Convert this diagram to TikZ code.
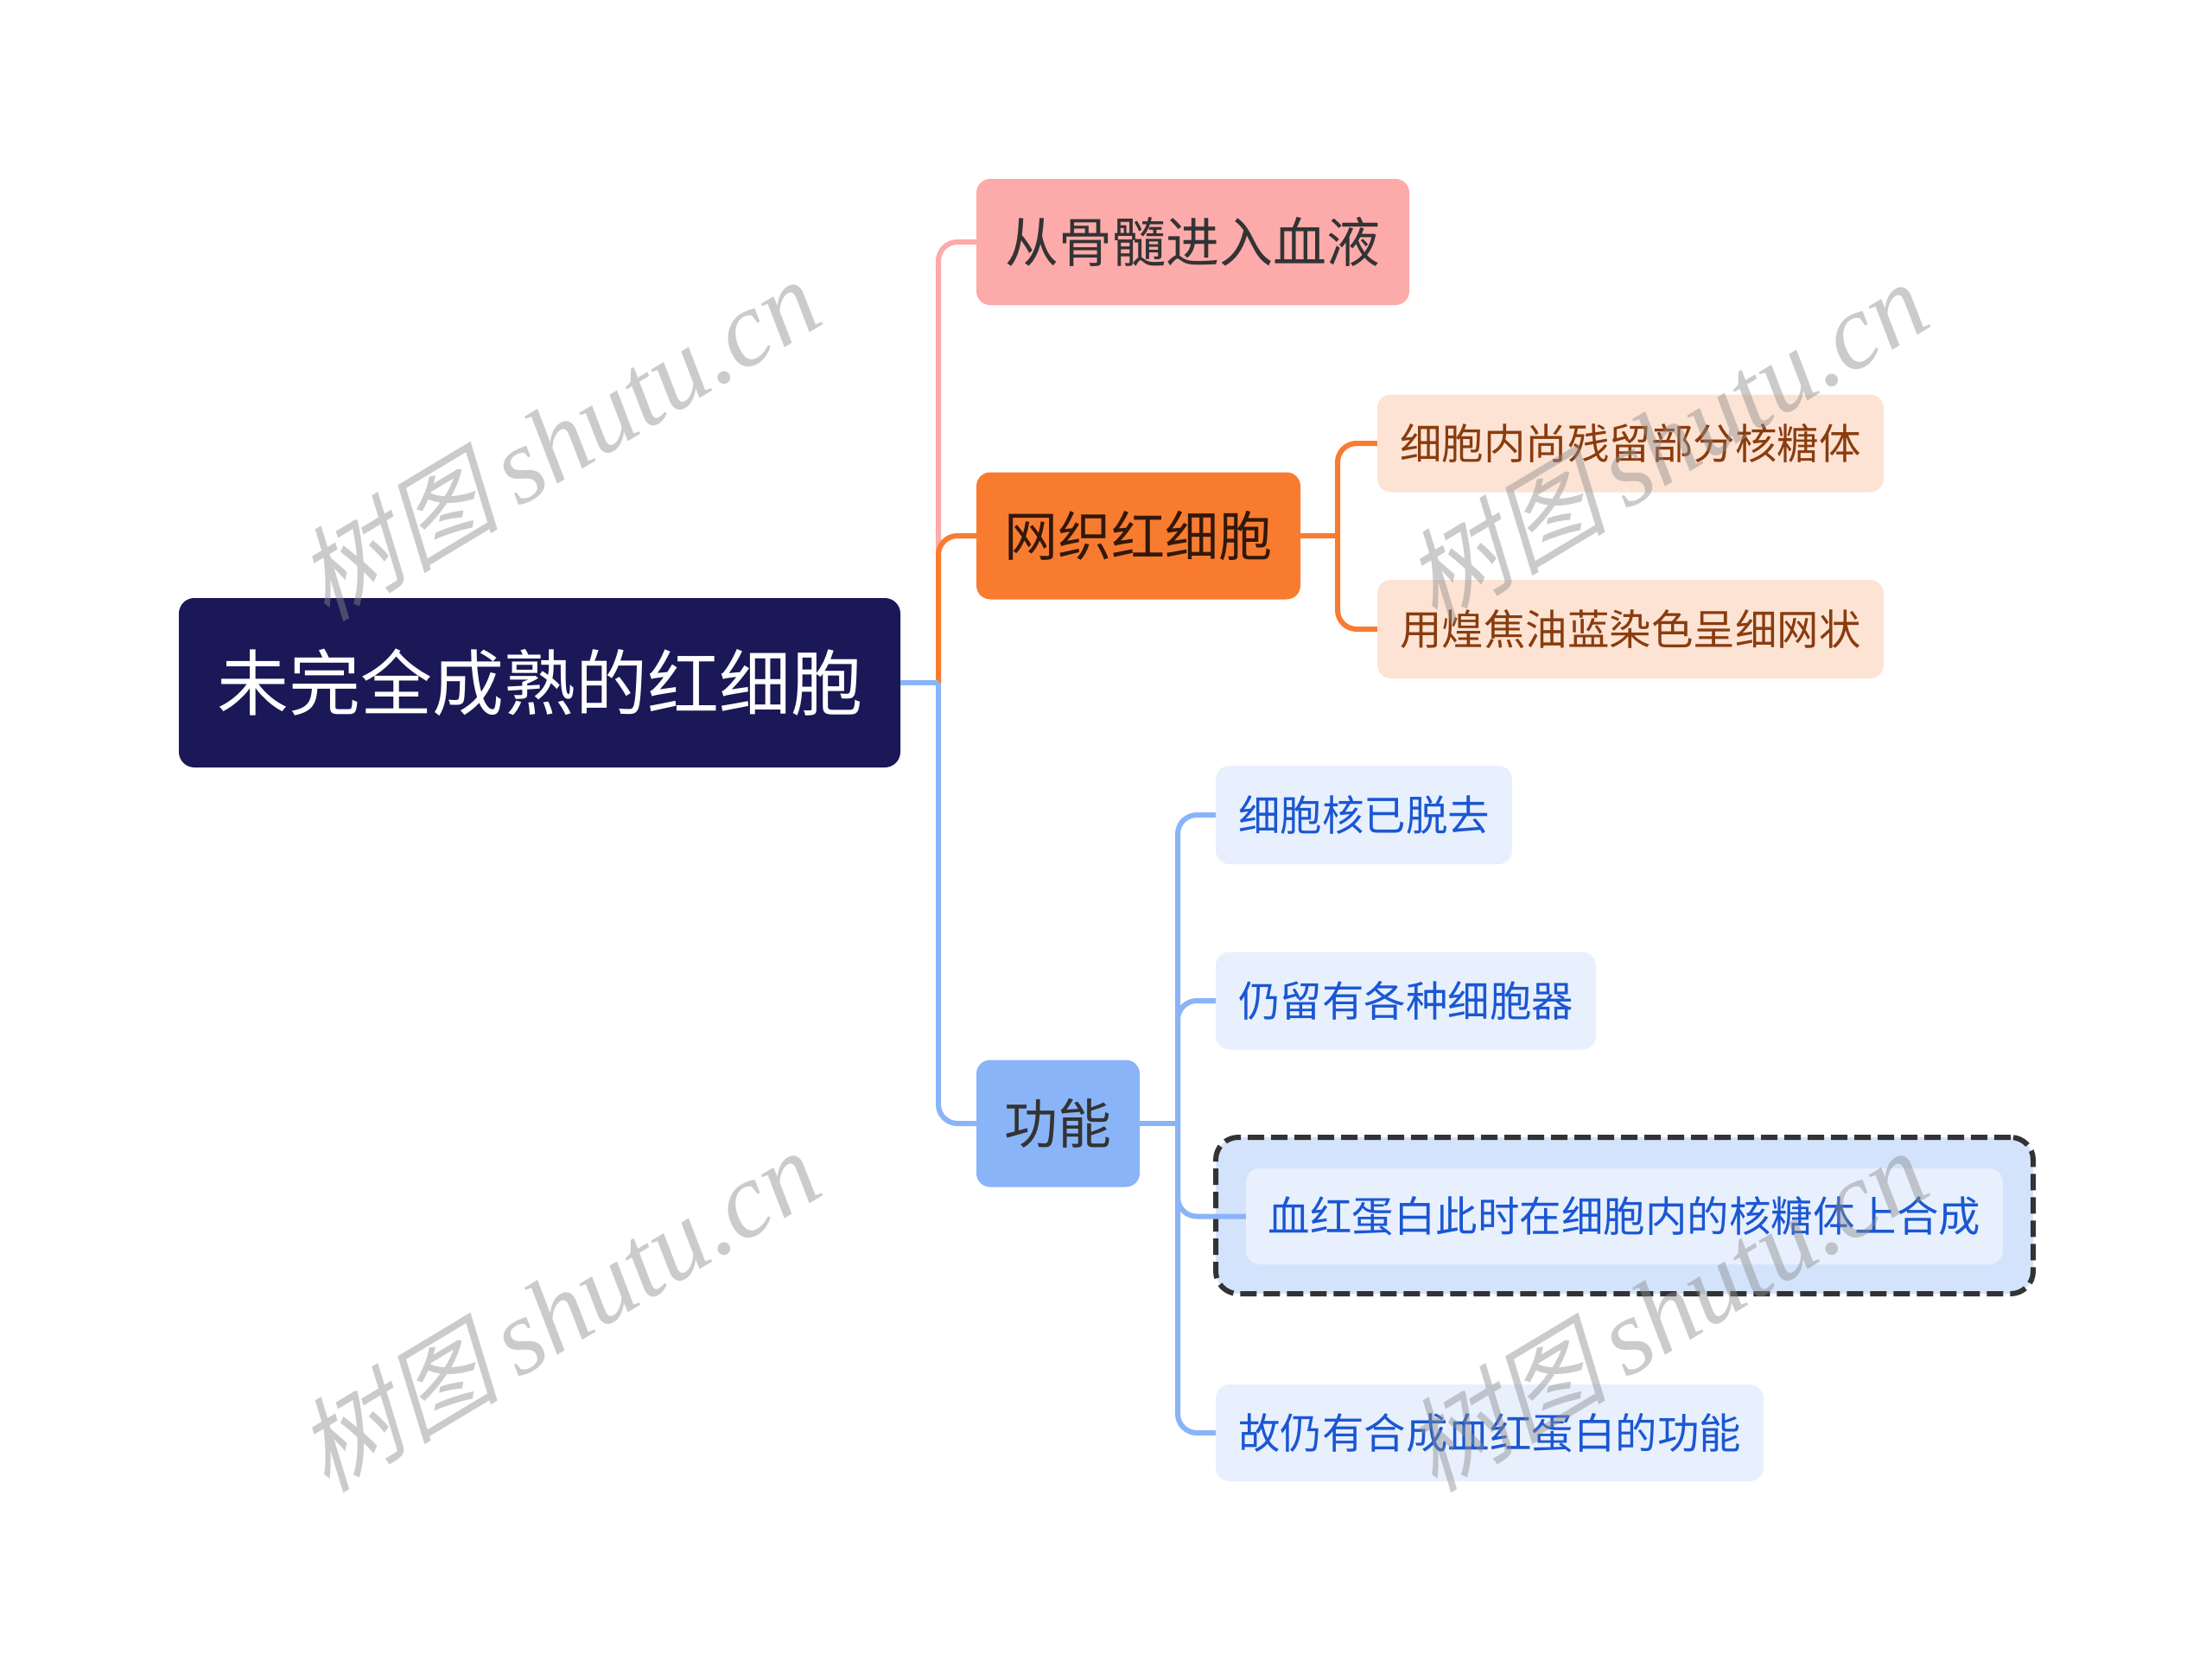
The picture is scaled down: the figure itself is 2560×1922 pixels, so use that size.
\documentclass[tikz,border=0pt]{standalone}
\usepackage{fontspec}
\newfontfamily\cjk{Noto Sans CJK SC}
\newfontfamily\wmcjk[FakeSlant=0.25]{Noto Sans CJK SC}
\newfontfamily\wmlat{Liberation Serif}
\definecolor{rootbg}{HTML}{1B1857}
\definecolor{pinkc}{HTML}{FCAAAA}
\definecolor{orangec}{HTML}{F97B30}
\definecolor{bluec}{HTML}{8AB4F8}
\definecolor{peach}{HTML}{FDE3D4}
\definecolor{brownt}{HTML}{8A3C0E}
\definecolor{lblue}{HTML}{E8F0FE}
\definecolor{mblue}{HTML}{D3E3FC}
\definecolor{bluet}{HTML}{1B57D2}
\definecolor{darkt}{HTML}{333333}
\tikzset{
  base/.style={inner sep=0pt, align=center},
  rootbox/.style={base, fill=rootbg, rounded corners=18pt, text=white, font=\cjk\fontsize{83}{90}\selectfont},
  lvone/.style={base, rounded corners=16pt, text=darkt, font=\cjk\fontsize{62}{70}\selectfont},
  lvtwo/.style={base, rounded corners=16pt, font=\cjk\fontsize{48.5}{56}\selectfont},
  conn/.style={line width=6pt, rounded corners=22pt},
  wm/.style={opacity=0.45, text=black!45, rotate=31, inner sep=0pt}
}
\begin{document}
\begin{tikzpicture}[x=1pt,y={(0pt,-1pt)}]
\useasboundingbox[fill=white] (0,0) rectangle (2560,1922);
% root
\node[rootbox, minimum width=835pt, minimum height=196pt] (root) at (624.5,790) {未完全成熟的红细胞};
% level 1
\node[lvone, fill=pinkc, minimum width=501pt, minimum height=146pt] (n1) at (1380.5,280) {从骨髓进入血液};
\node[lvone, fill=orangec, text=black!80!orangec, minimum width=375pt, minimum height=147pt] (n2) at (1317.5,620) {网织红细胞};
\node[lvone, fill=bluec, minimum width=189pt, minimum height=147pt] (n3) at (1224.5,1300) {功能};
% orange children
\node[lvtwo, fill=peach, text=brownt, minimum width=586pt, minimum height=113pt] (o1) at (1887,513) {细胞内尚残留部分核糖体};
\node[lvtwo, fill=peach, text=brownt, minimum width=586pt, minimum height=114pt] (o2) at (1887,728) {用煌焦油蓝染色呈细网状};
% blue children
\node[lvtwo, fill=lblue, text=bluet, minimum width=343pt, minimum height=114pt] (b1) at (1578.5,943) {细胞核已脱去};
\node[lvtwo, fill=lblue, text=bluet, minimum width=440pt, minimum height=113pt] (b2) at (1627,1158) {仍留有各种细胞器};
\node[base, fill=mblue, draw=darkt, line width=6pt, dash pattern=on 19pt off 8pt, rounded corners=26pt, minimum width=946pt, minimum height=181pt] (b3o) at (1880,1406.5) {};
\node[lvtwo, fill=lblue, text=bluet, minimum width=876pt, minimum height=111pt] (b3) at (1880,1407.5) {血红蛋白此时在细胞内的核糖体上合成};
\node[lvtwo, fill=lblue, text=bluet, minimum width=634pt, minimum height=112pt] (b4) at (1724,1658) {故仍有合成血红蛋白的功能};
% junction points
\coordinate (trunk) at (1086,790);
\coordinate (ot) at (1548,620);
\coordinate (bt) at (1363,1300);
% connectors
\draw[conn, pinkc] (trunk) |- (n1.west);
\draw[conn, orangec] (trunk) |- (n2.west);
\draw[conn, bluec] (trunk) |- (n3.west);
\draw[conn, bluec] (root.east) -- (trunk);
\draw[conn, orangec] (n2.east) -- (ot);
\draw[conn, orangec] (ot) |- (o1.west);
\draw[conn, orangec] (ot) |- (o2.west);
\draw[conn, bluec] (n3.east) -- (bt);
\draw[conn, bluec] (bt) |- (b1.west);
\draw[conn, bluec] (bt) |- (b2.west);
\draw[conn, bluec] (bt) |- (b3.west);
\draw[conn, bluec] (bt) |- (b4.west);
% watermarks
\foreach \p/\q in {645/508, 1927/511, 645/1516, 1927/1516}{
  \node[wm] (wm\p\q) at (\p,\q) {{\wmcjk\fontsize{118}{120}\selectfont 树图}\hspace{22pt}{\wmlat\itshape\fontsize{124}{130}\selectfont shutu.cn}};
}
\end{tikzpicture}
\end{document}
